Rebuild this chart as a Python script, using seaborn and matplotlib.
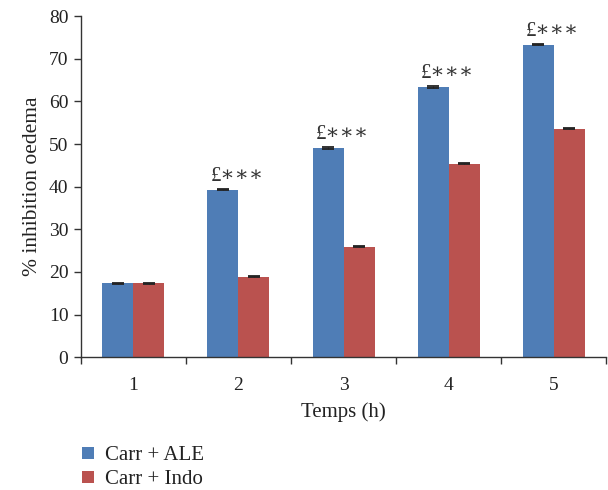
import matplotlib
matplotlib.use("Agg")
import matplotlib.pyplot as plt
import seaborn as sns
import pandas as pd
import numpy as np

times = ["1", "2", "3", "4", "5"]
ale = [17.3, 39.3, 49.1, 63.4, 73.3]
indo = [17.3, 18.9, 25.9, 45.4, 53.6]
ale_err = [0.15, 0.15, 0.15, 0.15, 0.15]
indo_err = [0.15, 0.15, 0.15, 0.15, 0.15]
series = ["Carr + ALE", "Carr + Indo"]
marks = ["", "£∗∗∗", "£∗∗∗", "£∗∗∗", "£∗∗∗"]
colors = ["#4F7DB6", "#BA524F"]

sns.set_style("white")
plt.rcParams['font.family'] = ['Liberation Serif', 'DejaVu Serif']

df = pd.DataFrame({
    "Temps": times * 2,
    "val": ale + indo,
    "grp": [series[0]] * 5 + [series[1]] * 5,
})

fig = plt.figure(figsize=(6.08, 4.90), dpi=100)
ax = fig.add_axes([0.133, 0.271, 0.864, 0.696])
sns.barplot(data=df, x="Temps", y="val", hue="grp", palette=colors,
            width=0.59, errorbar=None, ax=ax, saturation=1, linewidth=0)

errs = ale_err + indo_err
vals = ale + indo
bars = [p for p in ax.patches if p.get_height() > 0][:10]
for p, v, e in zip(bars, vals, errs):
    cx = p.get_x() + p.get_width() / 2
    ax.errorbar(cx, v, yerr=e, color="#222222", capsize=4, elinewidth=0.8,
                capthick=1.3, fmt="none")

for i, (m, v) in enumerate(zip(marks, ale)):
    if m:
        ax.text(i - 0.015, v + 2.1, m, ha="center", va="baseline", fontsize=15,
                color="#333333")

ax.set_ylim(0, 80)
ax.set_xlim(-0.5, 4.5)
ax.set_yticks(range(0, 81, 10))
ax.set_xlabel("Temps (h)", fontsize=15, labelpad=6.5, color="#222222")
ax.set_ylabel("% inhibition oedema", fontsize=15.5, labelpad=5, color="#222222")
ax.set_xticks(np.arange(-0.5, 5.0, 1.0), minor=True)
ax.tick_params(axis="x", which="major", length=0, labelsize=14, pad=14,
               labelcolor="#222222")
ax.tick_params(axis="x", which="minor", length=5, direction="out", width=1,
               bottom=True, color="#333333")
ax.tick_params(axis="y", length=5, direction="out", width=1, labelsize=14,
               left=True, pad=4, labelcolor="#222222", color="#333333")
for s in ["top", "right"]:
    ax.spines[s].set_visible(False)
for s in ["left", "bottom"]:
    ax.spines[s].set_color("#333333")
    ax.spines[s].set_linewidth(1)

handles, labels = ax.get_legend_handles_labels()
ax.get_legend().remove()
fig.legend(handles, labels, loc="upper left", bbox_to_anchor=(0.111, 0.119),
           frameon=False, fontsize=15, handlelength=0.55, handleheight=0.55,
           handletextpad=0.55, labelspacing=0.25, borderpad=0.2,
           labelcolor="#222222")

fig.savefig("out.png", dpi=100)
